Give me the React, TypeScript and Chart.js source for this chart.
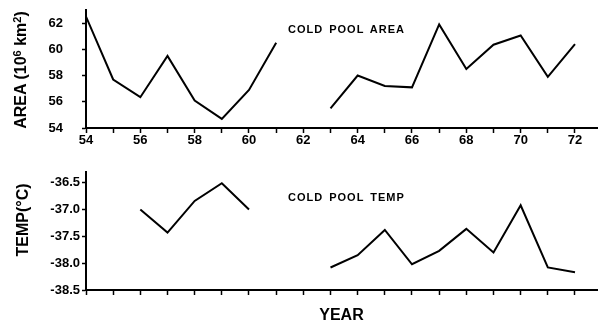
import React, { useEffect, useRef } from 'react';
import { Chart, registerables } from 'chart.js';

Chart.register(...registerables);

// ---- Data ----
const years = [54, 55, 56, 57, 58, 59, 60, 61, 62, 63, 64, 65, 66, 67, 68, 69, 70, 71, 72];
const areaValues: (number | null)[] = [
  62.5, 57.7, 56.35, 59.5, 56.1, 54.7, 56.9, 60.5, null,
  55.5, 58.0, 57.2, 57.1, 61.9, 58.5, 60.35, 61.05, 57.9, 60.4,
];
const tempValues: (number | null)[] = [
  null, null, -37.0, -37.43, -36.84, -36.51, -37.0, null, null,
  -38.08, -37.85, -37.38, -38.02, -37.77, -37.36, -37.8, -36.92, -38.08, -38.17,
];
const areaTicks = [54, 56, 58, 60, 62];
const tempTicks = [-38.5, -38.0, -37.5, -37.0, -36.5];
const yearLabels = [54, 56, 58, 60, 62, 64, 66, 68, 70, 72];

const TICK_FONT = { family: '"Liberation Sans", Arial, sans-serif', size: 13, weight: 'bold' as const };

function makeConfig(
  values: (number | null)[],
  yMin: number,
  yMax: number,
  yTicks: number[],
  yFmt: (v: number) => string,
  showXLabels: boolean,
  xAxisHeight: number,
  padTop: number,
  yLabelPad: number,
): any {
  return {
    type: 'line',
    data: {
      datasets: [
        {
          data: years.map((x, i) => ({ x, y: values[i] })),
          borderColor: '#000',
          borderWidth: 2,
          pointRadius: 0,
          tension: 0,
          spanGaps: false,
          fill: false,
        },
      ],
    },
    options: {
      responsive: false,
      animation: false,
      devicePixelRatio: 1,
      layout: { padding: { top: padTop, right: 6, left: 0, bottom: 0 } },
      plugins: { legend: { display: false }, tooltip: { enabled: false } },
      scales: {
        x: {
          type: 'linear',
          min: 54,
          max: 72.81,
          afterBuildTicks: (scale: any) => {
            scale.ticks = years.map((v) => ({ value: v }));
          },
          afterFit: (scale: any) => {
            scale.height = xAxisHeight;
            scale.paddingLeft = 0;
            scale.paddingRight = 0;
          },
          ticks: {
            autoSkip: false,
            maxRotation: 0,
            padding: 0,
            color: '#000',
            font: TICK_FONT,
            callback: (v: any) => (showXLabels && yearLabels.includes(Number(v)) ? String(v) : ''),
          },
          grid: {
            display: true,
            drawOnChartArea: false,
            drawTicks: true,
            tickLength: 5,
            tickColor: '#000',
            tickWidth: 1.5,
          },
          border: { display: true, color: '#000', width: 2 },
        },
        y: {
          type: 'linear',
          min: yMin,
          max: yMax,
          afterBuildTicks: (scale: any) => {
            scale.ticks = yTicks.map((v) => ({ value: v }));
          },
          afterFit: (scale: any) => {
            scale.width = 86;
            scale.paddingTop = 0;
            scale.paddingBottom = 0;
          },
          ticks: {
            padding: yLabelPad,
            color: '#000',
            font: TICK_FONT,
            callback: (v: any) => yFmt(Number(v)),
          },
          grid: {
            display: true,
            drawOnChartArea: false,
            drawTicks: true,
            tickLength: 4,
            tickColor: '#000',
            tickWidth: 1.5,
          },
          border: { display: true, color: '#000', width: 2 },
        },
      },
    },
  };
}

const titleFont: React.CSSProperties = {
  position: 'absolute',
  fontFamily: '"Liberation Sans", Arial, sans-serif',
  fontWeight: 'bold',
  color: '#000',
  whiteSpace: 'nowrap',
  lineHeight: 1,
};

const noteFont: React.CSSProperties = {
  position: 'absolute',
  fontFamily: '"Liberation Sans", Arial, sans-serif',
  fontWeight: 'bold',
  fontSize: '11px',
  letterSpacing: '1px',
  wordSpacing: '2px',
  color: '#000',
  whiteSpace: 'nowrap',
  lineHeight: 1,
  transform: 'translateY(-50%)',
};

const supStyle: React.CSSProperties = { fontSize: '11px', verticalAlign: '0.45em', lineHeight: 0 };

export default function App() {
  const topRef = useRef<HTMLCanvasElement | null>(null);
  const botRef = useRef<HTMLCanvasElement | null>(null);

  useEffect(() => {
    const c1 = new Chart(
      topRef.current as HTMLCanvasElement,
      makeConfig(areaValues, 54, 63, areaTicks, (v) => String(v), true, 24, 10, 19),
    );
    const c2 = new Chart(
      botRef.current as HTMLCanvasElement,
      makeConfig(tempValues, -38.5, -36.3, tempTicks, (v) => v.toFixed(1), false, 36, 20, 2),
    );
    return () => {
      c1.destroy();
      c2.destroy();
    };
  }, []);

  return (
    <div style={{ position: 'absolute', left: 0, top: 0, width: 603, height: 326, background: '#fff', overflow: 'hidden' }}>
      <canvas ref={topRef} width={603} height={152} style={{ position: 'absolute', left: 0, top: 0, width: 603, height: 152 }} />
      <canvas ref={botRef} width={603} height={174} style={{ position: 'absolute', left: 0, top: 152, width: 603, height: 174 }} />

      <div style={{ ...titleFont, fontSize: '16px', left: 21, top: 70, transform: 'translate(-50%, -50%) rotate(-90deg)' }}>
        AREA (10<sup style={supStyle}>6</sup> km<sup style={supStyle}>2</sup>)
      </div>
      <div style={{ ...titleFont, fontSize: '16px', left: 22.5, top: 220, transform: 'translate(-50%, -50%) rotate(-90deg)' }}>
        TEMP(°C)
      </div>
      <div style={{ ...titleFont, fontSize: '16px', left: 341.5, top: 315, transform: 'translate(-50%, -50%)' }}>YEAR</div>

      <div style={{ ...noteFont, left: 288, top: 29 }}>COLD POOL AREA</div>
      <div style={{ ...noteFont, left: 288, top: 197 }}>COLD POOL TEMP</div>
    </div>
  );
}
